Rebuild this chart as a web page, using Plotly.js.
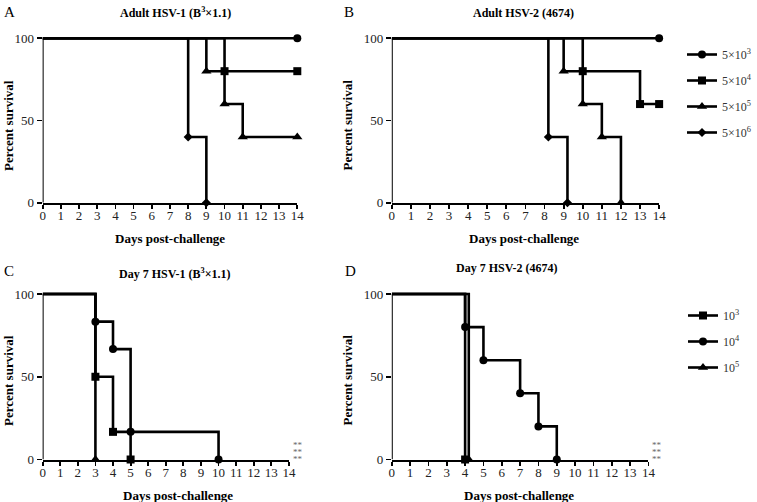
<!DOCTYPE html>
<html><head><meta charset="utf-8">
<script src="https://cdn.plot.ly/plotly-3.0.1.min.js"></script>
<style>html,body{margin:0;padding:0;background:#fff}</style>
</head><body>
<div id="chart" style="width:757px;height:502px"></div>
<script>
// Day ticks
const dayTicks = [0,1,2,3,4,5,6,7,8,9,10,11,12,13,14];
const survTicks = [0,50,100];

// Panel A: Adult HSV-1 (B3x1.1)
const aX1=[0,14],              aY1=[100,100];
const aX2=[0,10,14],           aY2=[100,80,80];
const aX3=[0,9,10,11,14],      aY3=[100,80,60,40,40];
const aX4=[0,8,9],             aY4=[100,40,0];
// Panel B: Adult HSV-2 (4674)
const bX1=[0,14],              bY1=[100,100];
const bX2=[0,10,13,14],        bY2=[100,80,60,60];
const bX3=[0,9,10,11,12],      bY3=[100,80,60,40,0];
const bX4=[0,8.2,9.2],         bY4=[100,40,0];
// Panel C: Day 7 HSV-1 (B3x1.1)
const cX1=[0,3,4,5],           cY1=[100,50,16.7,0];
const cX2=[0,3,4,5,10],        cY2=[100,83.3,66.7,16.7,0];
const cX3=[0,3],               cY3=[100,0];
// Panel D: Day 7 HSV-2 (4674)
const dX1=[0,4],               dY1=[100,0];
const dX2=[0,4,5,7,8,9],       dY2=[100,80,60,40,20,0];
const dX3=[0,4.2],             dY3=[100,0];

const adultNames = ['5×10<sup>3</sup>','5×10<sup>4</sup>','5×10<sup>5</sup>','5×10<sup>6</sup>'];
const day7Names  = ['10<sup>3</sup>','10<sup>4</sup>','10<sup>5</sup>'];
const asterisk = '**';

const SYM = {circle:['circle',8], square:['square',8], tri:['triangle-up',9], dia:['diamond',7]};
const FONT = '"Liberation Serif", "DejaVu Serif", serif';

function curve(x, y, sym, xa, ya){
  const s = SYM[sym];
  return {x:x, y:y, xaxis:xa, yaxis:ya, type:'scatter', mode:'lines+markers',
    line:{shape:'hv', color:'#000', width:2.6},
    marker:{symbol:s[0], size:x.map((v,i)=> i===0?0:s[1]), color:'#000', opacity:1, line:{width:0, color:'#000'}},
    cliponaxis:false, showlegend:false, hoverinfo:'skip'};
}
function legendItem(name, sym, leg, grp){
  const s = SYM[sym];
  return {x:[null], y:[null], xaxis:'x', yaxis:'y', type:'scatter', mode:'lines+markers', name:name,
    legend:leg, legendgroup:grp, line:{color:'#000', width:2.6},
    marker:{symbol:s[0], size:s[1], color:'#000', line:{width:0, color:'#000'}}, showlegend:true};
}

const traces = [
  curve(aX1,aY1,'circle','x','y'), curve(aX2,aY2,'square','x','y'),
  curve(aX3,aY3,'tri','x','y'),    curve(aX4,aY4,'dia','x','y'),
  curve(bX1,bY1,'circle','x2','y2'), curve(bX2,bY2,'square','x2','y2'),
  curve(bX3,bY3,'tri','x2','y2'),    curve(bX4,bY4,'dia','x2','y2'),
  curve(cX1,cY1,'square','x3','y3'), curve(cX2,cY2,'circle','x3','y3'),
  curve(cX3,cY3,'tri','x3','y3'),
  curve(dX1,dY1,'square','x4','y4'), curve(dX2,dY2,'circle','x4','y4'),
  curve(dX3,dY3,'tri','x4','y4'),
  legendItem(adultNames[0],'circle','legend','a1'),
  legendItem(adultNames[1],'square','legend','a2'),
  legendItem(adultNames[2],'tri','legend','a3'),
  legendItem(adultNames[3],'dia','legend','a4'),
  legendItem(day7Names[0],'square','legend2','d1'),
  legendItem(day7Names[1],'circle','legend2','d2'),
  legendItem(day7Names[2],'tri','legend2','d3')
];

const W=757, H=502;
const px = v => v/W, py = v => 1 - v/H;
const YMAX = 102;

function xax(d0,d1,anchor){
  return {domain:[px(d0),px(d1)], anchor:anchor, range:[0,14], tickvals:dayTicks,
    ticks:'outside', ticklen:4, tickwidth:1.8, tickcolor:'#000', ticklabelstandoff:-4,
    showline:true, linewidth:2, linecolor:'#000', showgrid:false, zeroline:false,
    tickfont:{family:FONT, size:13, color:'#222'}, fixedrange:true};
}
// t0 = pixel of value 100, t1 = pixel of value 0; domain extended so 100 sits at t0
function yax(t0,t1,anchor){
  const top = t1 - (t1-t0)*YMAX/100;
  return {domain:[py(t1),py(top)], anchor:anchor, range:[0,YMAX], tickvals:survTicks,
    ticks:'outside', ticklen:5, tickwidth:1.8, tickcolor:'#000',
    showline:false, showgrid:false, zeroline:false,
    tickfont:{family:FONT, size:13, color:'#222'}, fixedrange:true};
}

function ann(text, x, y, opts){
  return Object.assign({text:text, x:px(x), y:py(y), xref:'paper', yref:'paper',
    showarrow:false, xanchor:'center', yanchor:'middle',
    font:{family:FONT, size:12, color:'#000'}}, opts||{});
}
const bold = (s)=>'<b>'+s+'</b>';
const big = {family:FONT,size:15,color:'#000'};
const mid = {family:FONT,size:13,color:'#000'};
const annotations = [
  ann('A',2,12,{xanchor:'left',font:big}),
  ann('B',342,12,{xanchor:'left',font:big}),
  ann('C',2,271,{xanchor:'left',font:big}),
  ann('D',343,271,{xanchor:'left',font:big}),
  ann(bold('Adult HSV-1 (B<sup>3</sup>×1.1)'),176,13),
  ann(bold('Adult HSV-2 (4674)'),524,13),
  ann(bold('Day 7 HSV-1 (B<sup>3</sup>×1.1)'),175,273),
  ann(bold('Day 7 HSV-2 (4674)'),507,268),
  ann(bold('Days post-challenge'),170,238,{font:mid}),
  ann(bold('Days post-challenge'),525,238,{font:mid}),
  ann(bold('Days post-challenge'),178,495,{font:mid}),
  ann(bold('Days post-challenge'),520,495,{font:mid}),
  ann(bold('Percent survival'),8,125,{textangle:-90,font:mid}),
  ann(bold('Percent survival'),347,125,{textangle:-90,font:mid}),
  ann(bold('Percent survival'),8,380,{textangle:-90,font:mid}),
  ann(bold('Percent survival'),347,380,{textangle:-90,font:mid})
];
[['x3','y3'],['x4','y4']].forEach(r=>{
  [0,7,14].forEach(sh=>{
    annotations.push({text:asterisk, x:14, y:0, xref:r[0], yref:r[1], xanchor:'left', yanchor:'middle',
      xshift:2, yshift:sh+1, showarrow:false, font:{family:FONT,size:9,color:'#666'}});
  });
});

// y-axis lines drawn as shapes along x=0 of each panel (0..100)
const shapes = [['x','y'],['x2','y2'],['x3','y3'],['x4','y4']].map(r=>({
  type:'line', xref:r[0], yref:r[1], x0:0, x1:0, y0:0, y1:100, line:{color:'#000', width:2}, layer:'above'
}));

const legFont = {family:FONT,size:12,color:'#333'};
const layout = {
  width:W, height:H, margin:{l:0,r:0,t:0,b:0},
  paper_bgcolor:'#fff', plot_bgcolor:'#fff',
  font:{family:FONT, size:12, color:'#000'},
  xaxis: xax(42.7,297.7,'y'),  yaxis: yax(38.3,202.7,'x'),
  xaxis2:xax(392.3,660,'y2'),  yaxis2:yax(38.3,202.7,'x2'),
  xaxis3:xax(42.7,289.3,'y3'), yaxis3:yax(294,459.5,'x3'),
  xaxis4:xax(392.3,649.3,'y4'),yaxis4:yax(294,459.5,'x4'),
  legend:{x:px(683), y:py(40), xanchor:'left', yanchor:'top', traceorder:'grouped', tracegroupgap:7,
    bgcolor:'rgba(0,0,0,0)', font:legFont},
  legend2:{x:px(683), y:py(301), xanchor:'left', yanchor:'top', traceorder:'grouped', tracegroupgap:7,
    bgcolor:'rgba(0,0,0,0)', font:legFont},
  annotations: annotations,
  shapes: shapes
};
Plotly.newPlot('chart', traces, layout, {displayModeBar:false, staticPlot:true});
</script>
</body></html>
